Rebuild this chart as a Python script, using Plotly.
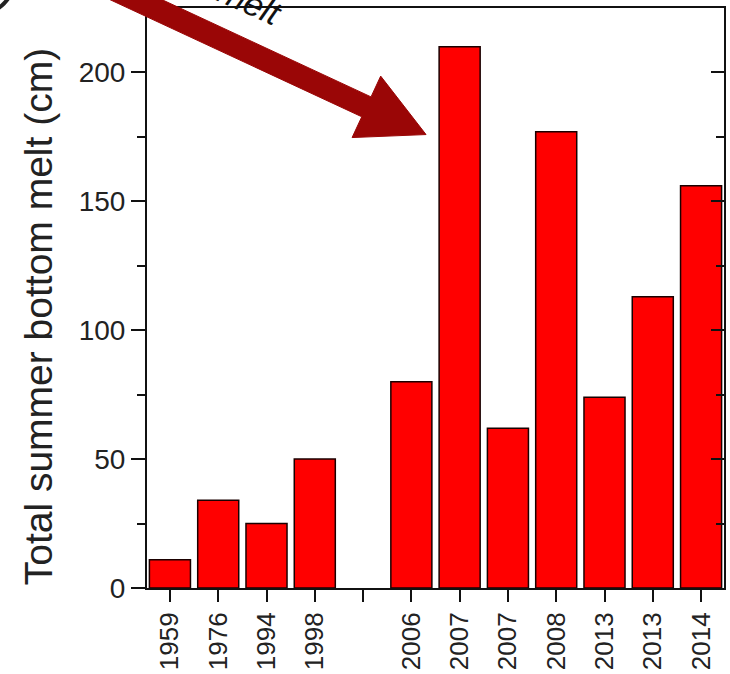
import plotly.graph_objects as go
import math

# ---- data ----
years = ["1959", "1976", "1994", "1998", "", "2006", "2007", "2007", "2008", "2013", "2013", "2014"]
melt_cm = [11, 34, 25, 50, None, 80, 210, 62, 177, 74, 113, 156]
y_ticks = [0, 50, 100, 150, 200]
y_title = "Total summer bottom melt (cm)"
note_text = "melt"

W, H = 730, 674
L, R, T, B = 147, 4, 8, 84
pw, ph = W - L - R, H - T - B

def px2paper(x, y):
    return (x - L) / pw, (H - B - y) / ph

pos = list(range(len(years)))

fig = go.Figure()
fig.add_trace(go.Bar(
    x=pos, y=melt_cm, width=0.85,
    marker=dict(color="#FF0000", line=dict(color="#1a0000", width=1.5)),
    showlegend=False, hoverinfo="skip",
))
# invisible trace to anchor right axis (inside ticks)
fig.add_trace(go.Scatter(x=[pos[0]], y=[0], yaxis="y2", mode="markers",
                         marker=dict(opacity=0), showlegend=False, hoverinfo="skip"))

font_family = "Liberation Sans, Arial, sans-serif"
fig.update_layout(
    width=W, height=H,
    margin=dict(l=L, r=R, t=T, b=B),
    paper_bgcolor="white", plot_bgcolor="white",
    xaxis=dict(
        range=[-0.475, len(years) - 0.525],
        tickmode="array", tickvals=pos, ticktext=years,
        tickangle=-90, ticks="outside", ticklen=12, tickwidth=2, tickcolor="#111",
        tickfont=dict(family=font_family, size=26, color="#222"),
        showline=True, linecolor="#111", linewidth=2, mirror=True,
        showgrid=False, zeroline=False, fixedrange=True,
    ),
    yaxis=dict(
        range=[0, 225],
        tickmode="array", tickvals=y_ticks,
        ticks="outside", ticklen=14, tickwidth=2, tickcolor="#111",
        minor=dict(dtick=25, ticks="outside", ticklen=8, tickwidth=2, tickcolor="#111"),
        tickfont=dict(family=font_family, size=28, color="#222"),
        showline=True, linecolor="#111", linewidth=2, mirror=True,
        showgrid=False, zeroline=False,
    ),
    yaxis2=dict(
        range=[0, 225], overlaying="y", side="right",
        tickmode="array", tickvals=y_ticks, showticklabels=False,
        ticks="inside", ticklen=13, tickwidth=2, tickcolor="#111",
        minor=dict(dtick=25, ticks="inside", ticklen=8, tickwidth=2, tickcolor="#111"),
        showline=False, showgrid=False, zeroline=False,
    ),
)

# y-axis title
tx, ty = px2paper(39, 318)
fig.add_annotation(x=tx, y=ty, xref="paper", yref="paper", text=y_title,
                   textangle=-90, showarrow=False,
                   font=dict(family=font_family, size=39, color="#222"),
                   xanchor="center", yanchor="middle")

# arrow polygon (decoration)
tip = (427, 135)
start = (40, -45)
dx, dy = tip[0] - start[0], tip[1] - start[1]
ln = math.hypot(dx, dy)
ux, uy = dx / ln, dy / ln
nx, ny = -uy, ux
head_len, head_half, shaft_half = 66, 34, 11
bx, by = tip[0] - ux * head_len, tip[1] - uy * head_len
pts = [
    (start[0] + nx * shaft_half, start[1] + ny * shaft_half),
    (bx + nx * shaft_half, by + ny * shaft_half),
    (bx + nx * head_half, by + ny * head_half),
    tip,
    (bx - nx * head_half, by - ny * head_half),
    (bx - nx * shaft_half, by - ny * shaft_half),
    (start[0] - nx * shaft_half, start[1] - ny * shaft_half),
]
path = ""
for i, (x, y) in enumerate(pts):
    xp, yp = px2paper(x, y)
    path += ("M" if i == 0 else "L") + f"{xp:.5f},{yp:.5f} "
path += "Z"
fig.add_shape(type="path", path=path, xref="paper", yref="paper",
              fillcolor="#9a0606", line=dict(color="#9a0606", width=1), layer="above")

# partial dark circle at top-left corner
c0 = px2paper(-58, -58)
c1 = px2paper(14, 14)
fig.add_shape(type="circle", xref="paper", yref="paper",
              x0=c0[0], y0=c1[1], x1=c1[0], y1=c0[1],
              line=dict(color="#222", width=4), fillcolor="rgba(0,0,0,0)")

# partially clipped italic note text
mx, my = px2paper(250, 2)
fig.add_annotation(x=mx, y=my, xref="paper", yref="paper", text=f"<i>{note_text}</i>",
                   textangle=24, showarrow=False,
                   font=dict(family=font_family, size=34, color="#111"),
                   xanchor="center", yanchor="middle")

fig.write_html("out.html")
